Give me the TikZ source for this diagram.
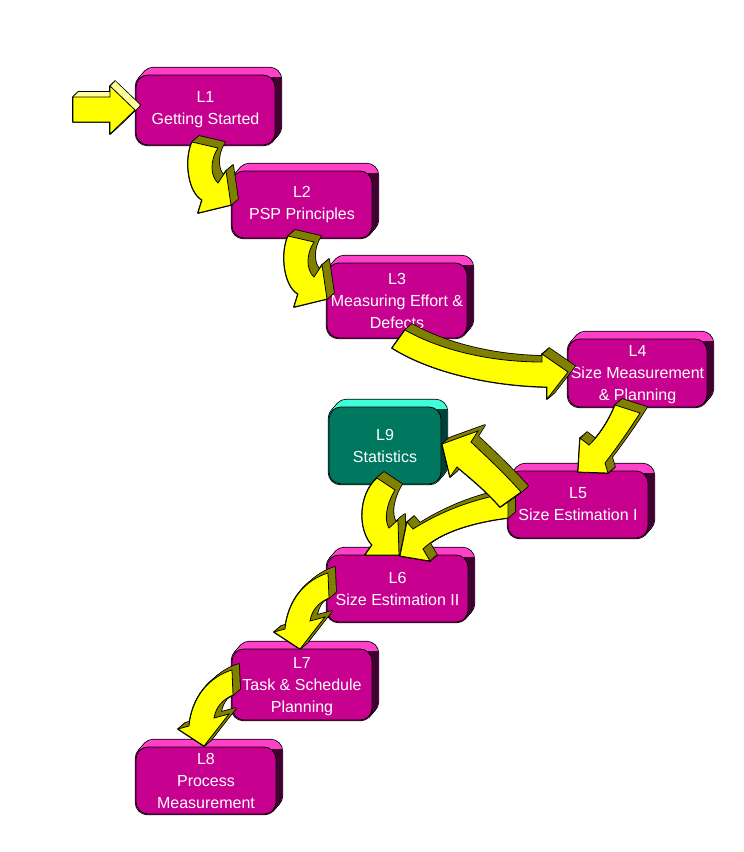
\documentclass[tikz,border=0pt]{standalone}
\usepackage{fontspec}
\setmainfont{Liberation Sans}
\usetikzlibrary{backgrounds,calc}
\definecolor{mag}{HTML}{C80090}
\definecolor{magtop}{HTML}{FF40C8}
\definecolor{magside}{HTML}{400030}
\definecolor{tealf}{HTML}{007860}
\definecolor{tealtop}{HTML}{40FFD8}
\definecolor{tealside}{HTML}{004038}
\definecolor{arrY}{HTML}{FFFF00}
\definecolor{arrO}{HTML}{808000}
\definecolor{arrL}{HTML}{FFFF99}
\tikzset{
  lesson/.style={draw=black, line width=0.8pt, rounded corners=12pt, fill=mag,
    text=white, align=center, inner sep=0pt,
    font=\fontsize{16}{22}\selectfont},
}
\newcommand\sweepsteps{0,0.125,0.25,0.375,0.5,0.625,0.75,0.875,1}
\newcommand\boxextr[3]{%
  \foreach \t in \sweepsteps {%
    \draw[line width=1.6pt, rounded corners=12pt]
      ($(#1.north west)+(6*\t,-7*\t)$) rectangle ($(#1.south east)+(6*\t,-7*\t)$);}
  \foreach \t in \sweepsteps {%
    \fill[#2, rounded corners=12pt]
      ($(#1.north west)+(6*\t,-7*\t)$) rectangle ($(#1.south east)+(6*\t,-7*\t)$);}
  \begin{scope}
    \clip ($(#1.north east)+(-4,3)$) rectangle ($(#1.south east)+(12,2)$);
    \foreach \t in \sweepsteps {%
      \fill[#3, rounded corners=12pt]
        ($(#1.north west)+(6*\t,-7*\t)$) rectangle ($(#1.south east)+(6*\t,-7*\t)$);}
  \end{scope}
}
\newcommand\barrow[4]{%
  \foreach \t in \sweepsteps {%
    \draw[line width=1.6pt, line join=round, shift={(#3*\t,#4*\t)}] #1;}
  \foreach \t in \sweepsteps {%
    \fill[#2, shift={(#3*\t,#4*\t)}] #1;}
  \filldraw[fill=arrY, draw=black, line width=0.8pt] #1;
}
\begin{document}
\begin{tikzpicture}[x=1pt,y=-1pt]
\useasboundingbox (0,0) rectangle (744,852);

% lesson boxes (front faces)
\node[lesson, minimum width=139pt, minimum height=70pt] (L1) at (205.5,110) {L1\\Getting Started};
\node[lesson, minimum width=140pt, minimum height=67pt] (L2) at (302,204.5) {L2\\PSP Principles};
\node[lesson, minimum width=140pt, minimum height=75pt] (L3) at (397,300.5) {L3\\Measuring Effort \&\\Defects};
\node[lesson, minimum width=139pt, minimum height=68pt, text depth=-4.6pt] (L4) at (637.5,373) {L4\\Size Measurement\\\& Planning};
\node[lesson, fill=tealf, minimum width=112pt, minimum height=77pt] (L9) at (385,445.5) {L9\\Statistics};
\node[lesson, minimum width=140pt, minimum height=67pt] (L5) at (578,504.5) {L5\\Size Estimation I};
\node[lesson, minimum width=141pt, minimum height=67pt] (L6) at (397.5,588.5) {L6\\Size Estimation II};
\node[lesson, minimum width=140pt, minimum height=71pt, text depth=-2pt] (L7) at (302,684.5) {L7\\Task \& Schedule\\Planning};
\node[lesson, minimum width=140pt, minimum height=67pt] (L8) at (206,780.5) {L8\\Process\\Measurement};

% 3D extrusion of the boxes
\begin{scope}[on background layer]
  \fill[white] (0,0) rectangle (744,852);
  \boxextr{L1}{magtop}{magside}
  \boxextr{L2}{magtop}{magside}
  \boxextr{L3}{magtop}{magside}
  \boxextr{L4}{magtop}{magside}
  \boxextr{L9}{tealtop}{tealside}
  \boxextr{L5}{magtop}{magside}
  \boxextr{L6}{magtop}{magside}
  \boxextr{L7}{magtop}{magside}
  \boxextr{L8}{magtop}{magside}
\end{scope}

% entry arrow into L1
\barrow{(73,97) -- (110,97) -- (110,86) -- (135,110) -- (110,134) -- (110,122) -- (73,122) -- cycle}{arrL}{5}{-5}

% L1 -> L2
\barrow{(192,142) -- (218,148) .. controls (210,160) and (210,176) .. (218,183) -- (226,171) -- (231,205) -- (198,213) -- (202,200) .. controls (188,192) and (184,160) .. cycle}{arrO}{7}{-6}

% L2 -> L3
\begin{scope}[shift={(96,94)}]
\barrow{(192,142) -- (218,148) .. controls (210,160) and (210,176) .. (218,183) -- (226,171) -- (231,205) -- (198,213) -- (202,200) .. controls (188,192) and (184,160) .. cycle}{arrO}{7}{-6}
\end{scope}

% L3 -> L4
\barrow{(392,348) -- (405,330) .. controls (440,350) and (490,362) .. (542,362) -- (542,354) -- (568,372) -- (547,399) -- (547,387) .. controls (490,386) and (430,372) .. cycle}{arrO}{7}{-6}

% L4 -> L5
\barrow{(615,405) -- (640,413) .. controls (628,432) and (615,450) .. (605,463) -- (608,473) -- (578,472) -- (580,438) -- (589,445) .. controls (600,435) and (610,418) .. cycle}{arrO}{7}{-6}

% L9 -> L6
\barrow{(377,478) -- (395,490) .. controls (386,505) and (384,520) .. (389,528) -- (398,520) -- (399,555) -- (365,555) -- (372,545) .. controls (358,530) and (358,495) .. cycle}{arrO}{7}{-6}

% L5 -> L6
\barrow{(407,522) -- (413,529) .. controls (440,512) and (470,500) .. (508,493) -- (508,518) .. controls (475,522) and (440,532) .. (423,549) -- (430,561) -- (400,556) -- cycle}{arrO}{7}{-6}

% L5 -> L9
\barrow{(442,444) -- (478,431) -- (471,442) .. controls (488,458) and (505,474) .. (521,492) -- (500,507) .. controls (485,490) and (470,478) .. (457,467) -- (450,477) -- cycle}{arrO}{7}{-6}

% L6 -> L7
\barrow{(328,573) .. controls (305,580) and (288,600) .. (285,629) -- (274,632) -- (300,649) -- (325,617) -- (310,621) .. controls (312,610) and (318,603) .. (329,598) -- cycle}{arrO}{7}{-6}

% L7 -> L8
\begin{scope}[shift={(-96,97)}]
\barrow{(328,573) .. controls (305,580) and (288,600) .. (285,629) -- (274,632) -- (300,649) -- (325,617) -- (310,621) .. controls (312,610) and (318,603) .. (329,598) -- cycle}{arrO}{7}{-6}
\end{scope}
\end{tikzpicture}
\end{document}
